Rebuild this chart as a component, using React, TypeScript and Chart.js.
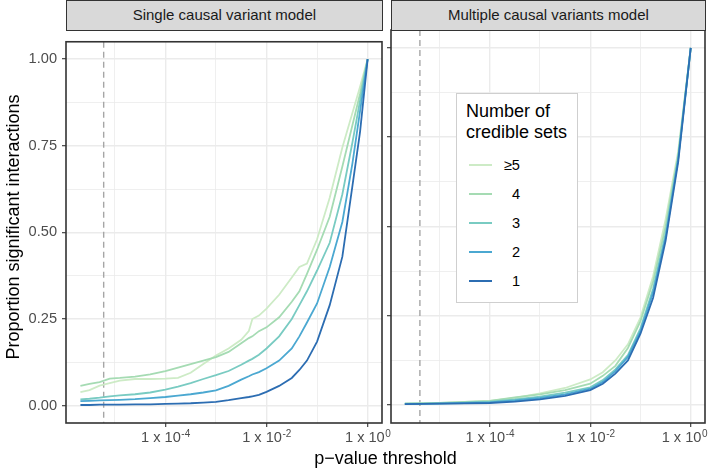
import React, { useEffect, useRef } from 'react';
import { Chart, registerables } from 'chart.js';

Chart.register(...registerables);

const FONT = '"Liberation Sans", Arial, Helvetica, sans-serif';

const PANEL_TITLES = ['Single causal variant model', 'Multiple causal variants model'];
const SERIES_LABELS = ['\u22655', '4', '3', '2', '1'];
const SERIES_COLORS = ['#cdebc6', '#a5dbb3', '#79cbc2', '#4ba8d1', '#2c6db2'];
const LEGEND_TITLE = ['Number of', 'credible sets'];
const X_TITLE = 'p\u2212value threshold';
const Y_TITLE = 'Proportion significant interactions';

// log10(p-value threshold) grid of each panel
const LEFT_LOG10_P = [-5.68, -5.5, -5.3, -5.1, -4.9, -4.6, -4.3, -4.0, -3.75, -3.5, -3.25, -3.0, -2.75, -2.5, -2.35, -2.28, -2.15, -2.0, -1.75, -1.5, -1.35, -1.2, -1.0, -0.75, -0.5, -0.3, -0.15, 0];
const LEFT_GE5 = [0.039, 0.045, 0.058, 0.065, 0.072, 0.077, 0.077, 0.078, 0.08, 0.095, 0.12, 0.145, 0.165, 0.19, 0.215, 0.25, 0.26, 0.28, 0.32, 0.37, 0.4, 0.41, 0.48, 0.6, 0.745, 0.845, 0.92, 1];
const LEFT_4 = [0.057, 0.063, 0.068, 0.078, 0.08, 0.084, 0.09, 0.1, 0.11, 0.12, 0.13, 0.14, 0.155, 0.18, 0.195, 0.2, 0.215, 0.226, 0.255, 0.3, 0.33, 0.38, 0.45, 0.545, 0.69, 0.81, 0.9, 1];
const LEFT_3 = [0.018, 0.02, 0.023, 0.027, 0.03, 0.033, 0.038, 0.046, 0.055, 0.065, 0.077, 0.088, 0.1, 0.118, 0.13, 0.135, 0.147, 0.165, 0.2, 0.25, 0.29, 0.33, 0.39, 0.47, 0.61, 0.76, 0.88, 1];
const LEFT_2 = [0.013, 0.014, 0.015, 0.016, 0.017, 0.019, 0.022, 0.025, 0.029, 0.033, 0.038, 0.044, 0.057, 0.075, 0.085, 0.09, 0.097, 0.108, 0.13, 0.165, 0.2, 0.24, 0.295, 0.4, 0.53, 0.7, 0.85, 1];
const LEFT_1 = [0.002, 0.002, 0.003, 0.003, 0.003, 0.004, 0.004, 0.005, 0.006, 0.007, 0.009, 0.011, 0.016, 0.022, 0.025, 0.027, 0.031, 0.04, 0.057, 0.08, 0.103, 0.13, 0.185, 0.29, 0.43, 0.635, 0.79, 1];

const RIGHT_LOG10_P = [-5.69, -5.0, -4.5, -4.0, -3.5, -3.0, -2.5, -2.0, -1.75, -1.5, -1.25, -1.0, -0.75, -0.5, -0.25, 0];
const RIGHT_GE5 = [0.004, 0.006, 0.009, 0.012, 0.02, 0.033, 0.048, 0.072, 0.092, 0.125, 0.17, 0.245, 0.36, 0.52, 0.71, 1];
const RIGHT_4 = [0.004, 0.006, 0.009, 0.012, 0.022, 0.03, 0.042, 0.06, 0.082, 0.11, 0.16, 0.235, 0.345, 0.5, 0.7, 1];
const RIGHT_3 = [0.004, 0.005, 0.007, 0.01, 0.016, 0.024, 0.035, 0.05, 0.07, 0.1, 0.14, 0.215, 0.325, 0.48, 0.69, 1];
const RIGHT_2 = [0.003, 0.004, 0.006, 0.008, 0.013, 0.02, 0.03, 0.046, 0.065, 0.095, 0.135, 0.208, 0.315, 0.47, 0.69, 1];
const RIGHT_1 = [0.003, 0.004, 0.005, 0.006, 0.01, 0.016, 0.026, 0.042, 0.06, 0.088, 0.125, 0.2, 0.3, 0.46, 0.68, 1];

const THRESHOLD_LOG10 = [-5.22, -5.39];
const X_MAJOR_EXP = [-4, -2, 0];
const X_MINOR_EXP = [-5, -3, -1];
const X_LIMIT_EXP = [-5.965, 0.284];
const Y_TICKS = [0, 0.125, 0.25, 0.375, 0.5, 0.625, 0.75, 0.875, 1];
const Y_LIMITS = [-0.05, 1.05];

const GRID = '#ebebeb';
const DARK = '#333333';

function isMajorY(v: number) {
  return Math.abs(v * 4 - Math.round(v * 4)) < 1e-6;
}
function isMajorX(v: number) {
  const e = Math.round(Math.log10(v));
  return X_MAJOR_EXP.indexOf(e) >= 0;
}

function decoPlugin(thresholdExp: number) {
  return {
    id: 'panelDeco',
    beforeDatasetsDraw(chart: any) {
      const { ctx, chartArea: a, scales } = chart;
      const x = scales.x.getPixelForValue(Math.pow(10, thresholdExp));
      ctx.save();
      ctx.strokeStyle = '#a6a6a6';
      ctx.lineWidth = 1.4;
      ctx.setLineDash([6, 4]);
      ctx.beginPath();
      ctx.moveTo(x, a.top);
      ctx.lineTo(x, a.bottom);
      ctx.stroke();
      ctx.restore();
    },
    afterDraw(chart: any) {
      const { ctx, chartArea: a, scales } = chart;
      ctx.save();
      ctx.strokeStyle = DARK;
      ctx.lineWidth = 1.6;
      ctx.strokeRect(a.left, a.top, a.right - a.left, a.bottom - a.top);
      // x tick labels "1 x 10^e"
      ctx.fillStyle = '#4d4d4d';
      ctx.textBaseline = 'alphabetic';
      ctx.textAlign = 'left';
      const base = a.bottom + 18.7;
      X_MAJOR_EXP.forEach((e) => {
        const px = scales.x.getPixelForValue(Math.pow(10, e));
        const main = '1 x 10';
        const sup = e === 0 ? '0' : '-' + String(-e);
        ctx.font = `14.6px ${FONT}`;
        const w1 = ctx.measureText(main).width;
        ctx.font = `10px ${FONT}`;
        const w2 = ctx.measureText(sup).width;
        let start = px - (w1 + w2) / 2;
        const maxRight = chart.width - 1;
        if (start + w1 + w2 > maxRight) start = maxRight - w1 - w2;
        ctx.font = `14.6px ${FONT}`;
        ctx.fillText(main, start, base);
        ctx.font = `10px ${FONT}`;
        ctx.fillText(sup, start + w1 + 0.5, base - 4.5);
      });
      ctx.restore();
    },
  };
}

function buildConfig(logs: number[], series: number[][], thresholdExp: number, showYLabels: boolean, yWidth: number, padRight: number) {
  const datasets = series
    .map((vals, i) => ({
      label: SERIES_LABELS[i],
      data: vals.map((v, j) => ({ x: Math.pow(10, logs[j]), y: v })),
      borderColor: SERIES_COLORS[i],
      backgroundColor: SERIES_COLORS[i],
      borderWidth: 1.8,
      pointRadius: 0,
      tension: 0,
      fill: false,
    }))
    .reverse();
  return {
    type: 'line',
    data: { datasets },
    options: {
      animation: false,
      responsive: false,
      maintainAspectRatio: false,
      devicePixelRatio: 1,
      layout: { padding: { top: 2, right: padRight, bottom: 0, left: 0 } },
      plugins: { legend: { display: false }, tooltip: { enabled: false }, title: { display: false } },
      scales: {
        x: {
          type: 'logarithmic',
          min: Math.pow(10, X_LIMIT_EXP[0]),
          max: Math.pow(10, X_LIMIT_EXP[1]),
          afterBuildTicks: (s: any) => {
            s.ticks = [...X_MINOR_EXP, ...X_MAJOR_EXP].sort((a, b) => a - b).map((e) => ({ value: Math.pow(10, e) }));
          },
          afterFit: (s: any) => {
            s.height = 46;
          },
          ticks: { display: false, autoSkip: false, maxRotation: 0 },
          border: { display: false },
          grid: {
            color: GRID,
            lineWidth: (c: any) => (c.tick && isMajorX(c.tick.value) ? 1.4 : 0.8),
            tickColor: (c: any) => (c.tick && isMajorX(c.tick.value) ? DARK : 'rgba(0,0,0,0)'),
            tickWidth: 1.1,
            tickLength: 4,
            drawTicks: true,
          },
        },
        y: {
          type: 'linear',
          min: Y_LIMITS[0],
          max: Y_LIMITS[1],
          afterBuildTicks: (s: any) => {
            s.ticks = Y_TICKS.map((v) => ({ value: v }));
          },
          afterFit: (s: any) => {
            s.width = yWidth;
          },
          ticks: {
            display: showYLabels,
            autoSkip: false,
            padding: 5,
            color: '#4d4d4d',
            font: { family: FONT, size: 14.6 },
            callback: (v: number) => (isMajorY(v) ? v.toFixed(2) : ''),
          },
          border: { display: false },
          grid: {
            color: GRID,
            lineWidth: (c: any) => (c.tick && isMajorY(c.tick.value) ? 1.4 : 0.8),
            tickColor: (c: any) => (c.tick && isMajorY(c.tick.value) ? DARK : 'rgba(0,0,0,0)'),
            tickWidth: 1.1,
            tickLength: 4,
            drawTicks: true,
          },
        },
      },
    },
    plugins: [decoPlugin(thresholdExp)],
  };
}

const strip = (left: number, width: number): React.CSSProperties => ({
  position: 'absolute',
  left,
  top: 0,
  width,
  height: 31,
  boxSizing: 'border-box',
  border: `1.5px solid ${DARK}`,
  background: '#d9d9d9',
  color: '#1a1a1a',
  fontSize: 15,
  lineHeight: '28px',
  textAlign: 'center',
  whiteSpace: 'nowrap',
});

export default function App() {
  const leftRef = useRef<HTMLCanvasElement>(null);
  const rightRef = useRef<HTMLCanvasElement>(null);

  useEffect(() => {
    const left = new Chart(
      leftRef.current as HTMLCanvasElement,
      buildConfig(LEFT_LOG10_P, [LEFT_GE5, LEFT_4, LEFT_3, LEFT_2, LEFT_1], THRESHOLD_LOG10[0], true, 66, 14) as any
    );
    const right = new Chart(
      rightRef.current as HTMLCanvasElement,
      buildConfig(RIGHT_LOG10_P, [RIGHT_GE5, RIGHT_4, RIGHT_3, RIGHT_2, RIGHT_1], THRESHOLD_LOG10[1], false, 7, 3) as any
    );
    return () => {
      left.destroy();
      right.destroy();
    };
  }, []);

  return (
    <div
      style={{
        position: 'absolute',
        left: 0,
        top: 0,
        width: 708,
        height: 469,
        overflow: 'hidden',
        background: '#ffffff',
        fontFamily: FONT,
      }}
    >
      <canvas ref={leftRef} width={396} height={441} style={{ position: 'absolute', left: 0, top: 28, width: 396, height: 441 }} />
      <canvas ref={rightRef} width={324} height={441} style={{ position: 'absolute', left: 384, top: 28, width: 324, height: 441 }} />
      <div style={strip(66, 316.8)}>{PANEL_TITLES[0]}</div>
      <div style={strip(391, 314.8)}>{PANEL_TITLES[1]}</div>
      <div
        style={{
          position: 'absolute',
          left: 13 - 160,
          top: 226.5 - 11,
          width: 320,
          height: 22,
          lineHeight: '22px',
          fontSize: 18,
          color: '#000',
          textAlign: 'center',
          transform: 'rotate(-90deg)',
          whiteSpace: 'nowrap',
        }}
      >
        {Y_TITLE}
      </div>
      <div
        style={{
          position: 'absolute',
          left: 385.5 - 150,
          top: 447,
          width: 300,
          height: 22,
          lineHeight: '22px',
          fontSize: 18,
          color: '#000',
          textAlign: 'center',
          whiteSpace: 'nowrap',
        }}
      >
        {X_TITLE}
      </div>
      <div
        style={{
          position: 'absolute',
          left: 456,
          top: 93,
          width: 122,
          height: 210,
          boxSizing: 'border-box',
          border: '1px solid #cfcfcf',
          background: '#ffffff',
        }}
      >
        <div style={{ position: 'absolute', left: 9, top: 7, fontSize: 18, lineHeight: '21px', color: '#000', whiteSpace: 'nowrap' }}>
          {LEGEND_TITLE[0]}
          <br />
          {LEGEND_TITLE[1]}
        </div>
        {SERIES_LABELS.map((lab, i) => (
          <div key={lab} style={{ position: 'absolute', left: 0, top: 71 + 29 * i - 10, width: 120, height: 20 }}>
            <div
              style={{
                position: 'absolute',
                left: 12,
                top: 9.1,
                width: 23,
                height: 1.8,
                background: SERIES_COLORS[i],
              }}
            />
            <div
              style={{
                position: 'absolute',
                left: 40,
                width: 23,
                top: 0,
                height: 20,
                lineHeight: '20px',
                fontSize: 14.6,
                color: '#000',
                textAlign: 'right',
              }}
            >
              {lab}
            </div>
          </div>
        ))}
      </div>
    </div>
  );
}
